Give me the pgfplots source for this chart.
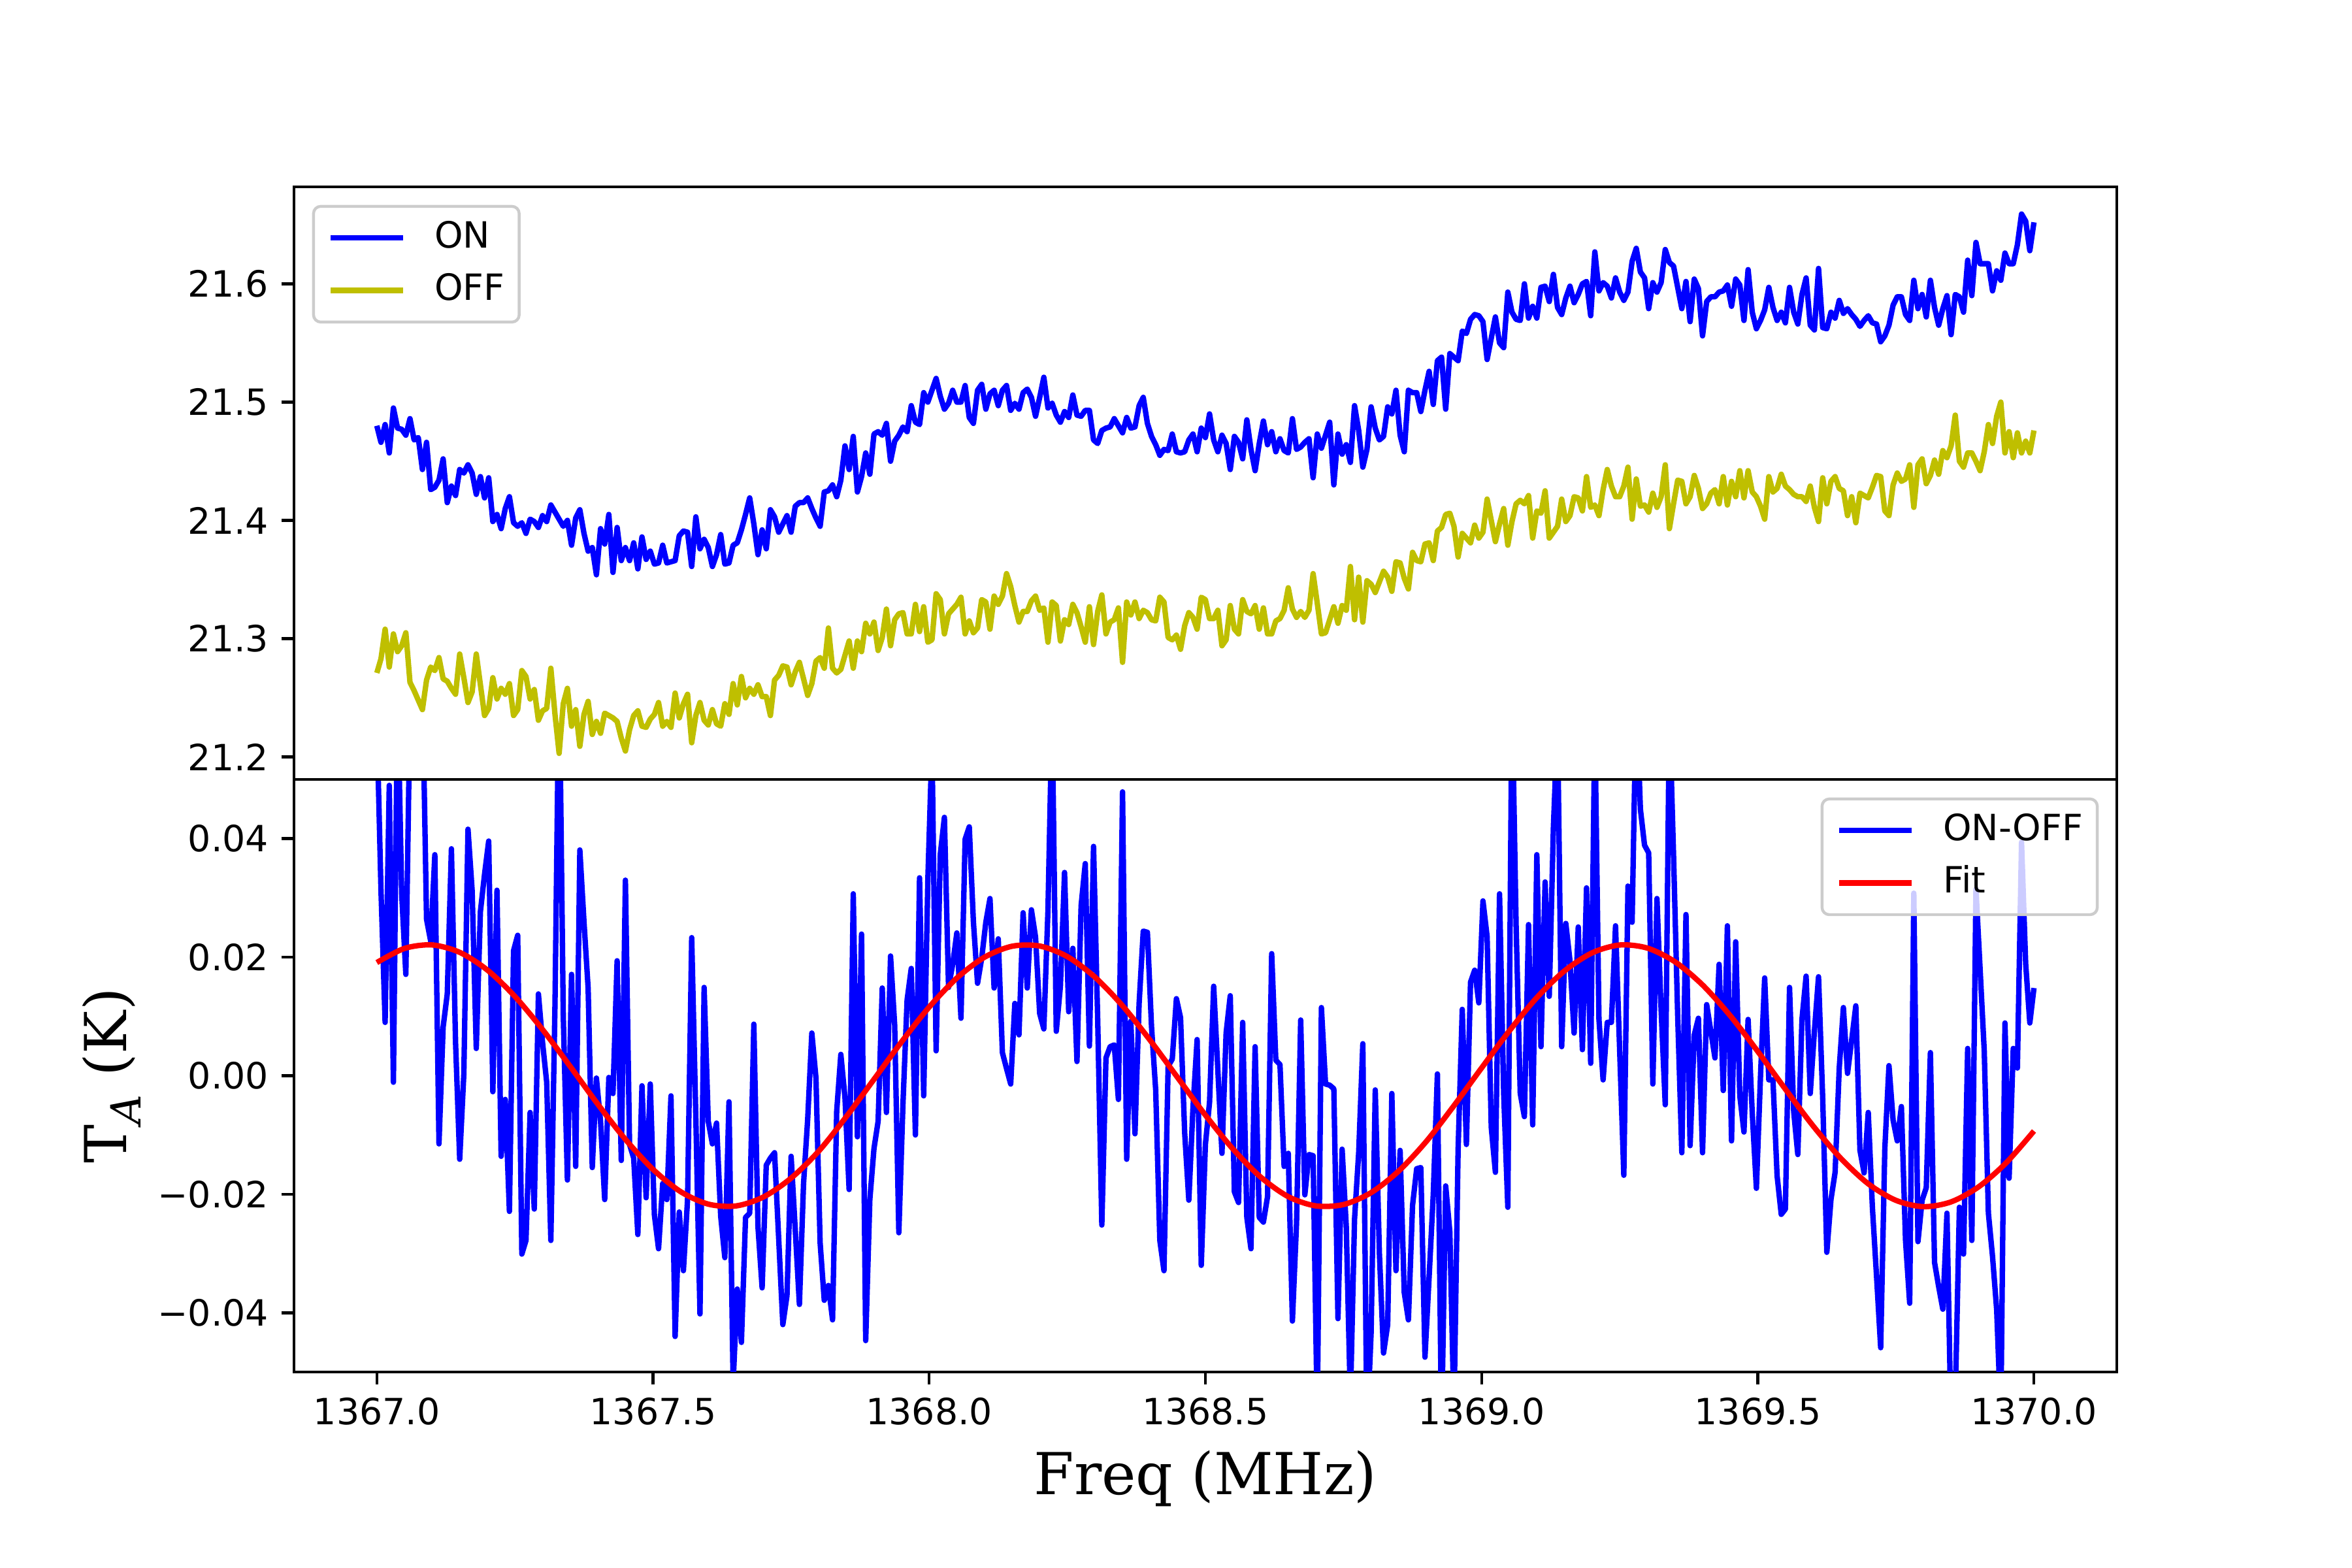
\documentclass[border=0pt]{standalone}
\usepackage{fontspec}
\setmainfont{DejaVu Sans}
\newfontfamily\dvserif{DejaVu Serif}
\usepackage{pgfplots}
\usepackage{pgfplotstable}
\pgfplotsset{compat=1.18}
\definecolor{mply}{rgb}{0.75,0.75,0}

\pgfplotstableread{
x on off d
1367.0000 21.480 21.271 0.060
1367.0075 21.466 21.283 0.0313
1367.0150 21.481 21.308 0.0090
1367.0225 21.457 21.276 0.0490
1367.0300 21.495 21.304 -0.0011
1367.0375 21.478 21.289 0.065
1367.0450 21.477 21.294 0.0307
1367.0525 21.472 21.305 0.0171
1367.0600 21.486 21.263 0.062
1367.0675 21.468 21.256 0.072
1367.0750 21.470 21.248 0.058
1367.0825 21.443 21.240 0.066
1367.0900 21.466 21.265 0.0264
1367.0975 21.426 21.276 0.0227
1367.1050 21.428 21.273 0.0373
1367.1125 21.434 21.284 -0.0115
1367.1200 21.452 21.266 0.0082
1367.1275 21.415 21.264 0.0138
1367.1350 21.429 21.258 0.0383
1367.1425 21.421 21.253 0.0056
1367.1500 21.443 21.287 -0.0141
1367.1575 21.440 21.267 0.0003
1367.1650 21.447 21.246 0.0416
1367.1725 21.440 21.255 0.0313
1367.1800 21.422 21.287 0.0046
1367.1875 21.437 21.261 0.0277
1367.1950 21.419 21.235 0.0340
1367.2025 21.436 21.241 0.0396
1367.2100 21.399 21.267 -0.0027
1367.2175 21.405 21.249 0.0313
1367.2250 21.393 21.258 -0.0136
1367.2325 21.410 21.253 -0.0040
1367.2400 21.420 21.262 -0.0229
1367.2475 21.398 21.235 0.0211
1367.2550 21.395 21.240 0.0237
1367.2625 21.398 21.273 -0.0301
1367.2700 21.389 21.268 -0.0278
1367.2775 21.401 21.249 -0.0062
1367.2850 21.399 21.257 -0.0225
1367.2925 21.394 21.231 0.0138
1367.3000 21.404 21.239 0.0056
1367.3075 21.399 21.241 -0.0011
1367.3150 21.413 21.275 -0.0278
1367.3225 21.407 21.236 0.012
1367.3300 21.401 21.203 0.070
1367.3375 21.395 21.245 0.0102
1367.3450 21.400 21.258 -0.0176
1367.3525 21.379 21.226 0.0171
1367.3600 21.402 21.240 -0.0153
1367.3675 21.409 21.209 0.0381
1367.3750 21.389 21.236 0.026
1367.3825 21.374 21.247 0.0148
1367.3900 21.377 21.219 -0.0155
1367.3975 21.354 21.230 -0.0004
1367.4050 21.393 21.220 -0.0077
1367.4125 21.380 21.237 -0.0209
1367.4200 21.405 21.235 -0.0003
1367.4275 21.356 21.233 -0.0030
1367.4350 21.394 21.230 0.0194
1367.4425 21.366 21.216 -0.0143
1367.4500 21.377 21.205 0.0330
1367.4575 21.366 21.223 -0.0116
1367.4650 21.381 21.235 -0.0139
1367.4725 21.359 21.239 -0.0268
1367.4800 21.386 21.226 -0.0017
1367.4875 21.367 21.225 -0.0206
1367.4950 21.374 21.232 -0.0014
1367.5025 21.363 21.236 -0.0235
1367.5100 21.364 21.246 -0.0292
1367.5175 21.379 21.226 -0.0182
1367.5250 21.364 21.230 -0.0209
1367.5325 21.365 21.225 -0.0034
1367.5400 21.366 21.254 -0.0440
1367.5475 21.387 21.233 -0.0230
1367.5550 21.391 21.245 -0.0329
1367.5625 21.390 21.253 -0.0209
1367.5700 21.361 21.212 0.0233
1367.5775 21.403 21.235 -0.0070
1367.5850 21.376 21.246 -0.0402
1367.5925 21.384 21.231 0.0149
1367.6000 21.377 21.227 -0.0077
1367.6075 21.361 21.240 -0.0115
1367.6150 21.371 21.228 -0.0080
1367.6225 21.388 21.226 -0.0237
1367.6300 21.363 21.245 -0.0307
1367.6375 21.364 21.236 -0.0044
1367.6450 21.379 21.262 -0.052
1367.6525 21.381 21.244 -0.0360
1367.6600 21.392 21.268 -0.0450
1367.6675 21.405 21.250 -0.0239
1367.6750 21.419 21.258 -0.0232
1367.6825 21.397 21.253 0.0087
1367.6900 21.371 21.261 -0.0255
1367.6975 21.392 21.251 -0.0358
1367.7050 21.376 21.251 -0.0151
1367.7125 21.409 21.235 -0.0139
1367.7200 21.403 21.265 -0.0130
1367.7275 21.390 21.269 -0.0275
1367.7350 21.397 21.277 -0.0420
1367.7425 21.404 21.276 -0.0371
1367.7500 21.390 21.261 -0.0136
1367.7575 21.412 21.272 -0.026
1367.7650 21.415 21.280 -0.0386
1367.7725 21.415 21.266 -0.0182
1367.7800 21.419 21.252 -0.0073
1367.7875 21.410 21.262 0.0072
1367.7950 21.402 21.281 -0.0004
1367.8025 21.395 21.284 -0.0282
1367.8100 21.424 21.275 -0.0379
1367.8175 21.425 21.309 -0.0354
1367.8250 21.430 21.275 -0.0412
1367.8325 21.420 21.271 -0.0060
1367.8400 21.434 21.274 0.0036
1367.8475 21.463 21.286 -0.0037
1367.8550 21.443 21.298 -0.0192
1367.8625 21.471 21.275 0.0307
1367.8700 21.424 21.298 -0.0103
1367.8775 21.437 21.289 0.0239
1367.8850 21.457 21.313 -0.0447
1367.8925 21.439 21.304 -0.0209
1367.9000 21.473 21.314 -0.0123
1367.9075 21.475 21.290 -0.0077
1367.9150 21.472 21.301 0.0148
1367.9225 21.482 21.325 -0.0062
1367.9300 21.450 21.294 0.0202
1367.9375 21.467 21.316 0.0085
1367.9450 21.472 21.321 -0.0265
1367.9525 21.479 21.322 -0.0047
1367.9600 21.475 21.304 0.0128
1367.9675 21.497 21.304 0.0181
1367.9750 21.483 21.329 -0.0100
1367.9825 21.481 21.306 0.0334
1367.9900 21.508 21.327 -0.0034
1367.9975 21.500 21.297 0.0330
1368.0050 21.510 21.299 0.056
1368.0125 21.520 21.338 0.0042
1368.0200 21.505 21.333 0.0373
1368.0275 21.494 21.304 0.0436
1368.0350 21.499 21.321 0.0149
1368.0425 21.510 21.325 0.0188
1368.0500 21.500 21.329 0.0241
1368.0575 21.500 21.335 0.0097
1368.0650 21.514 21.304 0.0399
1368.0725 21.487 21.315 0.0420
1368.0800 21.482 21.305 0.0260
1368.0875 21.510 21.309 0.0156
1368.0950 21.515 21.333 0.0198
1368.1025 21.494 21.331 0.0259
1368.1100 21.507 21.308 0.0299
1368.1175 21.510 21.336 0.0148
1368.1250 21.497 21.329 0.0231
1368.1325 21.510 21.336 0.0039
1368.1400 21.514 21.355 0.0012
1368.1475 21.493 21.344 -0.0014
1368.1550 21.499 21.328 0.0122
1368.1625 21.494 21.314 0.0069
1368.1700 21.508 21.323 0.0275
1368.1775 21.511 21.323 0.0148
1368.1850 21.504 21.332 0.0280
1368.1925 21.488 21.336 0.0234
1368.2000 21.504 21.324 0.0105
1368.2075 21.521 21.326 0.0079
1368.2150 21.495 21.297 0.0280
1368.2225 21.499 21.331 0.062
1368.2300 21.489 21.328 0.0075
1368.2375 21.483 21.298 0.0151
1368.2450 21.492 21.316 0.0343
1368.2525 21.487 21.312 0.0108
1368.2600 21.506 21.329 0.0215
1368.2675 21.489 21.322 0.0024
1368.2750 21.488 21.310 0.0287
1368.2825 21.493 21.297 0.0358
1368.2900 21.493 21.327 0.0050
1368.2975 21.468 21.295 0.0387
1368.3050 21.465 21.323 0.0095
1368.3125 21.476 21.337 -0.0252
1368.3200 21.478 21.304 0.0030
1368.3275 21.479 21.314 0.0049
1368.3350 21.486 21.316 0.0052
1368.3425 21.480 21.326 -0.0040
1368.3500 21.474 21.280 0.0479
1368.3575 21.487 21.331 -0.0141
1368.3650 21.478 21.320 0.0092
1368.3725 21.479 21.331 -0.0098
1368.3800 21.497 21.317 0.0122
1368.3875 21.504 21.324 0.0244
1368.3950 21.482 21.322 0.0242
1368.4025 21.471 21.316 0.0082
1368.4100 21.464 21.315 -0.0024
1368.4175 21.455 21.335 -0.0278
1368.4250 21.460 21.331 -0.0329
1368.4325 21.459 21.301 0.0016
1368.4400 21.473 21.299 0.0028
1368.4475 21.458 21.303 0.0130
1368.4550 21.457 21.291 0.0098
1368.4625 21.458 21.311 -0.0097
1368.4700 21.468 21.322 -0.0210
1368.4775 21.473 21.318 -0.0054
1368.4850 21.458 21.308 0.0061
1368.4925 21.478 21.335 -0.0320
1368.5000 21.470 21.333 -0.0116
1368.5075 21.490 21.317 -0.0045
1368.5150 21.468 21.317 0.0151
1368.5225 21.458 21.324 0.001
1368.5300 21.472 21.294 -0.0131
1368.5375 21.465 21.299 0.0072
1368.5450 21.443 21.328 0.0135
1368.5525 21.471 21.308 -0.0196
1368.5600 21.466 21.304 -0.0214
1368.5675 21.452 21.333 0.0090
1368.5750 21.485 21.323 -0.0239
1368.5825 21.460 21.321 -0.0292
1368.5900 21.442 21.328 0.0049
1368.5975 21.465 21.308 -0.0239
1368.6050 21.484 21.326 -0.0247
1368.6125 21.464 21.304 -0.0204
1368.6200 21.475 21.304 0.0206
1368.6275 21.458 21.315 0.0026
1368.6350 21.469 21.317 0.0019
1368.6425 21.459 21.324 -0.0153
1368.6500 21.457 21.343 -0.0131
1368.6575 21.486 21.325 -0.0414
1368.6650 21.460 21.318 -0.0249
1368.6725 21.462 21.323 0.0094
1368.6800 21.466 21.318 -0.0201
1368.6875 21.469 21.324 -0.0133
1368.6950 21.436 21.355 -0.0135
1368.7025 21.473 21.330 -0.058
1368.7100 21.461 21.304 0.0115
1368.7175 21.472 21.305 -0.0014
1368.7250 21.483 21.316 -0.0016
1368.7325 21.430 21.327 -0.0022
1368.7400 21.473 21.313 -0.0410
1368.7475 21.456 21.328 -0.0124
1368.7550 21.464 21.324 -0.0254
1368.7625 21.449 21.361 -0.055
1368.7700 21.497 21.316 -0.0242
1368.7775 21.476 21.352 -0.0130
1368.7850 21.445 21.314 0.0054
1368.7925 21.460 21.349 -0.060
1368.8000 21.496 21.346 -0.0434
1368.8075 21.478 21.339 -0.0024
1368.8150 21.468 21.348 -0.0300
1368.8225 21.471 21.357 -0.0468
1368.8300 21.496 21.352 -0.0420
1368.8375 21.490 21.340 -0.0030
1368.8450 21.510 21.365 -0.0329
1368.8525 21.472 21.364 -0.0126
1368.8600 21.458 21.351 -0.0366
1368.8675 21.510 21.342 -0.0412
1368.8750 21.508 21.373 -0.0219
1368.8825 21.508 21.366 -0.0157
1368.8900 21.492 21.365 -0.0155
1368.8975 21.510 21.380 -0.0475
1368.9050 21.526 21.381 -0.034
1368.9125 21.498 21.366 -0.0201
1368.9200 21.535 21.391 0.0003
1368.9275 21.538 21.394 -0.060
1368.9350 21.494 21.405 -0.0186
1368.9425 21.541 21.406 -0.0263
1368.9500 21.538 21.395 -0.057
1368.9575 21.535 21.369 -0.0124
1368.9650 21.560 21.389 0.0112
1368.9725 21.558 21.385 -0.0116
1368.9800 21.570 21.381 0.0158
1368.9875 21.574 21.396 0.0178
1368.9950 21.573 21.385 0.0123
1369.0025 21.568 21.390 0.0295
1369.0100 21.536 21.418 0.0235
1369.0175 21.554 21.400 -0.0087
1369.0250 21.572 21.382 -0.0163
1369.0325 21.550 21.397 0.0307
1369.0400 21.546 21.410 -0.0030
1369.0475 21.593 21.379 -0.0222
1369.0550 21.576 21.399 0.065
1369.0625 21.570 21.414 0.0254
1369.0700 21.569 21.417 -0.0030
1369.0775 21.600 21.414 -0.0069
1369.0850 21.571 21.421 0.0255
1369.0925 21.581 21.385 -0.0083
1369.1000 21.571 21.408 0.0373
1369.1075 21.597 21.406 0.0049
1369.1150 21.598 21.425 0.0327
1369.1225 21.585 21.385 0.0134
1369.1300 21.608 21.390 0.0419
1369.1375 21.580 21.395 0.060
1369.1450 21.574 21.418 0.0049
1369.1525 21.588 21.399 0.0257
1369.1600 21.598 21.404 0.0194
1369.1675 21.584 21.420 0.0072
1369.1750 21.591 21.419 0.0251
1369.1825 21.600 21.408 0.0044
1369.1900 21.602 21.437 0.0317
1369.1975 21.573 21.411 0.0021
1369.2050 21.627 21.413 0.060
1369.2125 21.594 21.404 0.0095
1369.2200 21.601 21.426 -0.0007
1369.2275 21.598 21.443 0.0090
1369.2350 21.588 21.429 0.0090
1369.2425 21.605 21.420 0.0253
1369.2500 21.593 21.420 0.0042
1369.2575 21.586 21.429 -0.0168
1369.2650 21.593 21.445 0.0320
1369.2725 21.619 21.401 0.0259
1369.2800 21.630 21.435 0.065
1369.2875 21.610 21.412 0.045
1369.2950 21.605 21.413 0.0389
1369.3025 21.579 21.407 0.0376
1369.3100 21.601 21.423 -0.0014
1369.3175 21.593 21.411 0.0299
1369.3250 21.601 21.420 0.0112
1369.3325 21.629 21.447 -0.0049
1369.3400 21.618 21.393 0.062
1369.3475 21.615 21.414 0.0373
1369.3550 21.597 21.434 0.0102
1369.3625 21.579 21.433 -0.0130
1369.3700 21.602 21.414 0.0272
1369.3775 21.568 21.420 -0.0118
1369.3850 21.604 21.438 0.0069
1369.3925 21.596 21.427 0.0097
1369.4000 21.556 21.410 -0.0130
1369.4075 21.585 21.414 0.0120
1369.4150 21.589 21.423 0.0075
1369.4225 21.589 21.426 0.0030
1369.4300 21.593 21.414 0.0188
1369.4375 21.594 21.437 -0.0025
1369.4450 21.599 21.413 0.0253
1369.4525 21.581 21.433 -0.0110
1369.4600 21.604 21.420 0.0226
1369.4675 21.599 21.442 -0.0034
1369.4750 21.569 21.419 -0.0095
1369.4825 21.612 21.442 0.0095
1369.4900 21.576 21.424 -0.0063
1369.4975 21.562 21.420 -0.0190
1369.5050 21.569 21.412 0.0001
1369.5125 21.578 21.401 0.0165
1369.5200 21.597 21.437 -0.0007
1369.5275 21.580 21.424 -0.0007
1369.5350 21.569 21.427 -0.0169
1369.5425 21.576 21.439 -0.0234
1369.5500 21.567 21.429 -0.0225
1369.5575 21.597 21.426 0.0149
1369.5650 21.576 21.422 -0.0060
1369.5725 21.566 21.420 -0.0133
1369.5800 21.591 21.420 0.0095
1369.5875 21.605 21.416 0.0168
1369.5950 21.565 21.429 -0.0030
1369.6025 21.561 21.411 0.0075
1369.6100 21.613 21.399 0.0167
1369.6175 21.563 21.436 -0.0037
1369.6250 21.562 21.414 -0.0298
1369.6325 21.576 21.433 -0.0209
1369.6400 21.571 21.437 -0.0163
1369.6475 21.586 21.427 0.0013
1369.6550 21.575 21.425 0.0115
1369.6625 21.579 21.404 0.0004
1369.6700 21.574 21.420 0.006
1369.6775 21.570 21.398 0.0118
1369.6850 21.564 21.423 -0.0126
1369.6925 21.569 21.421 -0.0164
1369.7000 21.573 21.419 -0.0062
1369.7075 21.567 21.428 -0.0222
1369.7150 21.566 21.438 -0.0338
1369.7225 21.551 21.437 -0.0459
1369.7300 21.556 21.408 -0.0123
1369.7375 21.565 21.404 0.0017
1369.7450 21.582 21.430 -0.0075
1369.7525 21.589 21.440 -0.0110
1369.7600 21.589 21.433 -0.0052
1369.7675 21.574 21.435 -0.0278
1369.7750 21.569 21.447 -0.0384
1369.7825 21.603 21.411 0.0308
1369.7900 21.579 21.447 -0.0280
1369.7975 21.591 21.452 -0.0210
1369.8050 21.572 21.431 -0.0189
1369.8125 21.603 21.438 0.0039
1369.8200 21.580 21.451 -0.0315
1369.8275 21.565 21.439 -0.0356
1369.8350 21.579 21.459 -0.0394
1369.8425 21.590 21.453 -0.0232
1369.8500 21.557 21.463 -0.060
1369.8575 21.591 21.489 -0.055
1369.8650 21.589 21.450 -0.0222
1369.8725 21.576 21.445 -0.0301
1369.8800 21.620 21.457 0.0046
1369.8875 21.590 21.457 -0.0278
1369.8950 21.635 21.450 0.0315
1369.9025 21.617 21.442 0.018
1369.9100 21.617 21.458 0.0042
1369.9175 21.617 21.481 -0.0232
1369.9250 21.594 21.465 -0.0305
1369.9325 21.611 21.488 -0.0395
1369.9400 21.603 21.500 -0.058
1369.9475 21.626 21.457 0.0089
1369.9550 21.617 21.475 -0.0173
1369.9625 21.617 21.453 0.0046
1369.9700 21.633 21.474 0.0013
1369.9775 21.659 21.457 0.0394
1369.9850 21.653 21.467 0.0189
1369.9925 21.628 21.457 0.0089
1370.0000 21.652 21.476 0.0148
}\spec

\pgfplotstableread{
x fit
1367.00 0.01910
1367.05 0.02148
1367.10 0.02207
1367.15 0.02082
1367.20 0.01784
1367.25 0.01337
1367.30 0.00779
1367.35 0.00157
1367.40 -0.00480
1367.45 -0.01074
1367.50 -0.01581
1367.55 -0.01957
1367.60 -0.02167
1367.65 -0.02198
1367.70 -0.02046
1367.75 -0.01728
1367.80 -0.01273
1367.85 -0.00690
1367.90 -0.00061
1367.95 0.00572
1368.00 0.01159
1368.05 0.01648
1368.10 0.01999
1368.15 0.02185
1368.20 0.02189
1368.25 0.02010
1368.30 0.01664
1368.35 0.01180
1368.40 0.00597
1368.45 -0.00035
1368.50 -0.00665
1368.55 -0.01238
1368.60 -0.01710
1368.65 -0.02041
1368.70 -0.02197
1368.75 -0.02174
1368.80 -0.01973
1368.85 -0.01608
1368.90 -0.01108
1368.95 -0.00505
1369.00 0.00131
1369.05 0.00754
1369.10 0.01318
1369.15 0.01768
1369.20 0.02073
1369.25 0.02206
1369.30 0.02154
1369.35 0.01923
1369.40 0.01532
1369.45 0.01014
1369.50 0.00410
1369.55 -0.00227
1369.60 -0.00845
1369.65 -0.01391
1369.70 -0.01824
1369.75 -0.02103
1369.80 -0.02210
1369.85 -0.02129
1369.90 -0.01874
1369.95 -0.01467
1370.00 -0.00933
}\fit

\pgfplotsset{
  mpl/.style={
    scale only axis,
    width=504.08pt,
    height=163.87pt,
    xmin=1366.85, xmax=1370.15,
    scaled x ticks=false,
    scaled y ticks=false,
    tick align=outside,
    tick pos=left,
    major tick length=3.5pt,
    tick style={line width=0.8pt, black},
    axis line style={line width=0.8pt},
    ticklabel style={font=\fontsize{10}{12}\selectfont},
    legend cell align=left,
    legend image code/.code={\draw[##1, line width=1.5pt] (0pt,0pt) -- (20pt,0pt);},
    legend style={
      draw=black!20, line width=0.8pt, rounded corners=2pt,
      fill=white, fill opacity=0.8, text opacity=1, draw opacity=1,
      font=\fontsize{10}{12}\selectfont,
      inner xsep=4pt, inner ysep=4pt,
      row sep=5pt, column sep=8pt,
      nodes={inner sep=0pt, text height=7.5pt, text depth=2pt},
    },
  }
}

\begin{document}
\begin{tikzpicture}
\path[use as bounding box] (-81.30pt,-54.20pt) rectangle (569.12pt,379.41pt);

\begin{axis}[mpl,
  at={(0pt,0pt)}, anchor=south west,
  ymin=-0.05, ymax=0.05,
  xtick={1367,1367.5,1368,1368.5,1369,1369.5,1370},
  xticklabels={1367.0,1367.5,1368.0,1368.5,1369.0,1369.5,1370.0},
  ytick={-0.04,-0.02,0,0.02,0.04},
  yticklabels={−0.04,−0.02,0.00,0.02,0.04},
  xlabel={\dvserif Freq (MHz)},
  ylabel={\dvserif T\raisebox{-0.25em}{\fontsize{11.5}{12}\selectfont\itshape A} (K)},
  xlabel style={font=\fontsize{16}{19}\selectfont, at={(axis description cs:0.5,-0.180)}, anchor=center},
  ylabel style={font=\fontsize{16}{19}\selectfont, at={(axis description cs:-0.1000,0.5)}, anchor=center},
  legend style={at={(axis description cs:1,1)}, anchor=north east, xshift=-5pt, yshift=-5pt},
]
\addplot[blue, line width=1.5pt, line join=round] table[x=x, y=d] {\spec};
\addlegendentry{ON-OFF}
\addplot[red, line width=1.5pt, smooth] table[x=x, y=fit] {\fit};
\addlegendentry{Fit}
\end{axis}

\begin{axis}[mpl,
  at={(0pt,163.87pt)}, anchor=south west,
  ymin=21.181, ymax=21.682,
  xtick=\empty,
  ytick={21.2,21.3,21.4,21.5,21.6},
  yticklabels={21.2,21.3,21.4,21.5,21.6},
  legend style={at={(axis description cs:0,1)}, anchor=north west, xshift=5pt, yshift=-5pt},
]
\addplot[blue, line width=1.5pt, line join=round] table[x=x, y=on] {\spec};
\addlegendentry{ON}
\addplot[mply, line width=1.5pt, line join=round] table[x=x, y=off] {\spec};
\addlegendentry{OFF}
\end{axis}
\end{tikzpicture}
\end{document}
